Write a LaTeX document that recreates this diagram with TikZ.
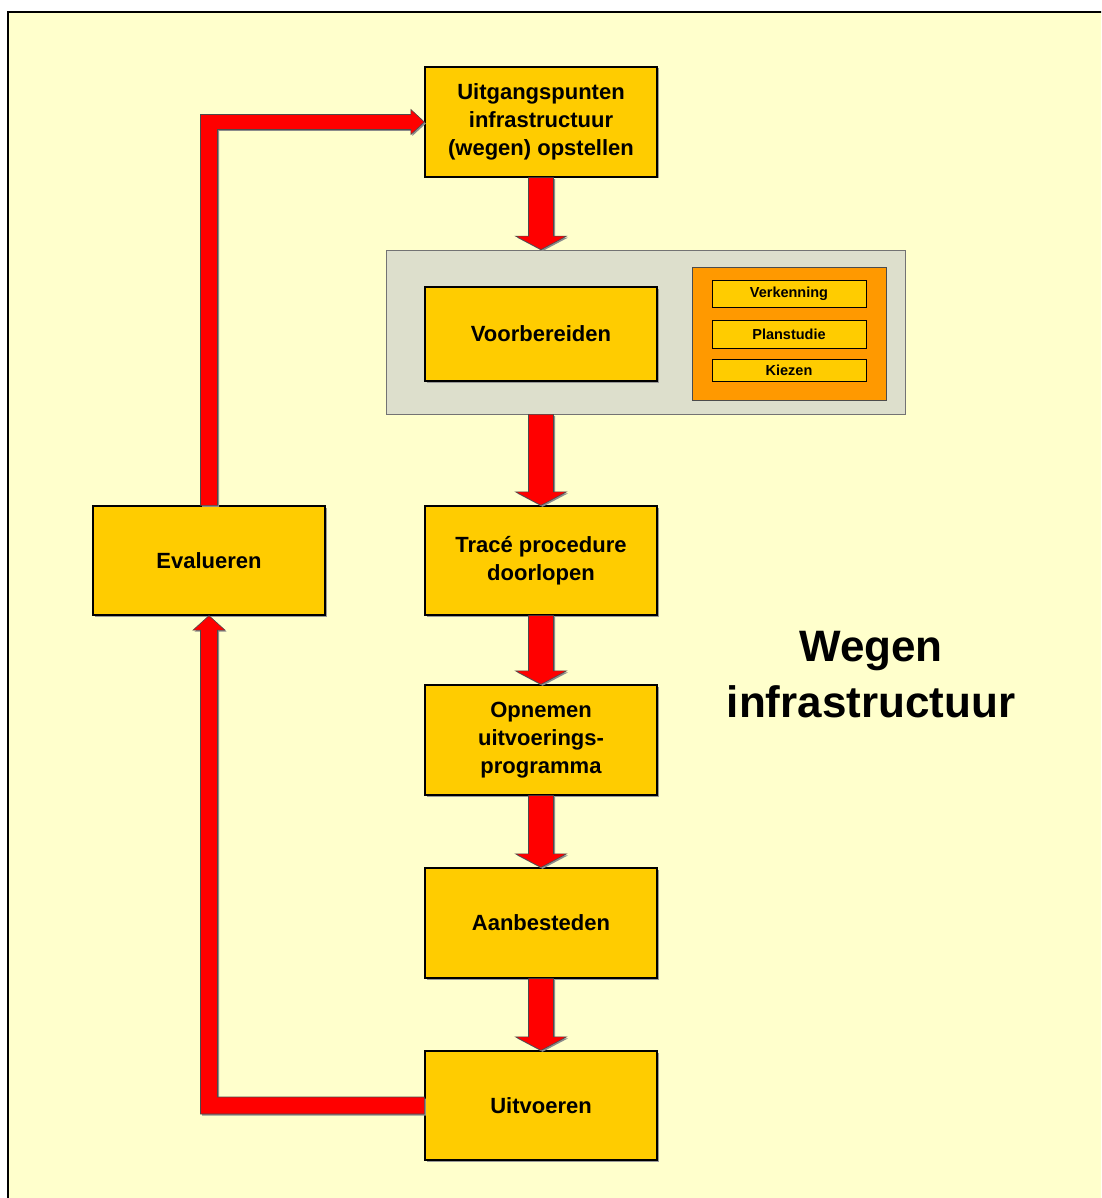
\documentclass[tikz,border=0pt]{standalone}
\usepackage{fontspec}
\setmainfont{Liberation Sans}
\usetikzlibrary{calc,shadows}
\definecolor{bgyellow}{HTML}{FFFFCC}
\definecolor{boxyellow}{HTML}{FFCC00}
\definecolor{boxorange}{HTML}{FF9900}
\definecolor{panelgray}{HTML}{DDDFCC}
\definecolor{arrowred}{HTML}{FF0000}
\tikzset{
  stepbox/.style={draw=black, line width=1.3pt, fill=boxyellow, minimum width=232pt,
    minimum height=110pt, inner sep=0pt, align=center,
    font=\fontsize{22}{28}\selectfont\bfseries,
    drop shadow={shadow xshift=1.5pt, shadow yshift=-1.5pt, fill=black!40, opacity=1}},
  subbox/.style={draw=black, line width=1pt, fill=boxyellow, minimum width=154pt,
    inner sep=0pt, align=center, font=\fontsize{14.5}{16}\selectfont\bfseries},
  panelbox/.style={draw=black!55, line width=0.8pt, fill=panelgray, minimum width=519pt,
    minimum height=164pt, inner sep=0pt},
  orangebox/.style={draw=black!70, line width=0.8pt, fill=boxorange, minimum width=194pt,
    minimum height=133pt, inner sep=0pt,
    drop shadow={shadow xshift=1.2pt, shadow yshift=-1.2pt, fill=black!40, opacity=1}},
  blockarrow/.style={fill=arrowred, draw=black!70, line width=0.6pt,
    drop shadow={shadow xshift=1.5pt, shadow yshift=-1.5pt, fill=black!45, opacity=1}},
  titletext/.style={align=center, font=\fontsize{44}{56}\selectfont\bfseries}
}
\newcommand{\blockdown}[2]{%
  \path[blockarrow] ($(#1)+(-12.5,0)$) -- ($(#2)+(-12.5,13.5)$) -- ($(#2)+(-25.5,13.5)$)
    -- (#2) -- ($(#2)+(25.5,13.5)$) -- ($(#2)+(12.5,13.5)$) -- ($(#1)+(12.5,0)$) -- cycle;}
\begin{document}
\begin{tikzpicture}[x=1pt,y=1pt]
\useasboundingbox (0,0) rectangle (1101,-1198);
\fill[white] (0,0) rectangle (1101,-1198);
\begin{scope}
\clip (0,0) rectangle (1101,-1198);
\filldraw[fill=bgyellow, draw=black, line width=2pt] (8,-12) rectangle (1120,-1220);
\end{scope}

% main column
\node[stepbox] (b1) at (541,-122) {Uitgangspunten\\infrastructuur\\(wegen) opstellen};
\node[panelbox] (prep) at (645.5,-332) {};
\node[stepbox, minimum height=94pt] (voor) at (541,-334) {Voorbereiden};
\node[orangebox] (orng) at (789,-333.5) {};
\node[subbox, minimum height=27pt] (verk) at (789,-293.5) {Verkenning};
\node[subbox, minimum height=28pt] (plan) at (789,-334) {Planstudie};
\node[subbox, minimum height=22pt] (kiez) at (789,-370) {Kiezen};
\node[stepbox, minimum height=109pt] (trace) at (541,-560.5) {Tracé procedure\\doorlopen};
\node[stepbox] (opn) at (541,-740) {Opnemen\\uitvoerings-\\programma};
\node[stepbox] (aanb) at (541,-923) {Aanbesteden};
\node[stepbox, minimum height=109pt] (uit) at (541,-1105.5) {Uitvoeren};
\node[stepbox, minimum height=109pt] (ev) at (209,-560.5) {Evalueren};

\node[titletext] (title) at (871,-675) {Wegen\\infrastructuur};

% arrow end points
\coordinate (a1e) at (prep.north -| b1.south);
\coordinate (a2s) at (prep.south -| voor.south);
\blockdown{b1.south}{a1e}
\blockdown{a2s}{trace.north}
\blockdown{trace.south}{opn.north}
\blockdown{opn.south}{aanb.north}
\blockdown{aanb.south}{uit.north}

% loop back: Uitvoeren -> Evalueren
\coordinate (lc) at (ev.south |- uit.west);
\path[blockarrow] ($(uit.west)+(0,8.5)$) -- ($(lc)+(8.5,8.5)$) -- ($(ev.south)+(8.5,-14.5)$)
  -- ($(ev.south)+(16,-14.5)$) -- (ev.south) -- ($(ev.south)+(-16,-14.5)$)
  -- ($(ev.south)+(-8.5,-14.5)$) -- ($(lc)+(-8.5,-8.5)$) -- ($(uit.west)+(0,-8.5)$) -- cycle;

% Evalueren -> Uitgangspunten
\coordinate (tc) at (ev.north |- b1.west);
\path[blockarrow] ($(ev.north)+(-8.5,0)$) -- ($(tc)+(-8.5,7.5)$) -- ($(b1.west)+(-13.5,7.5)$)
  -- ($(b1.west)+(-13.5,12.5)$) -- (b1.west) -- ($(b1.west)+(-13.5,-12.5)$)
  -- ($(b1.west)+(-13.5,-7.5)$) -- ($(tc)+(8.5,-7.5)$) -- ($(ev.north)+(8.5,0)$) -- cycle;
\end{tikzpicture}
\end{document}
